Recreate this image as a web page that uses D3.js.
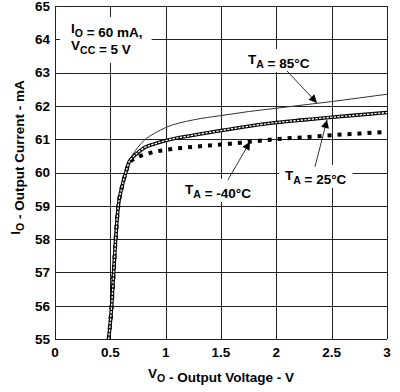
<!DOCTYPE html>
<html lang="en">
	<head>
		<meta charset="utf-8">
		<title>Output Current vs Output Voltage</title>
		<script src="https://d3js.org/d3.v7.min.js"></script>
		<style>
			body {
				margin: 0;
				background: #ffffff;
			}
			text {
				font-family: "Liberation Sans", Arial, sans-serif;
				font-weight: bold;
				fill: #000000;
			}
			.grid line {
				stroke: #222222;
				stroke-width: 1;
				shape-rendering: crispEdges;
			}
		</style>
	</head>
	<body>
		<div id="chart"></div>
		<script type="text/javascript">
			// data (VO in volts, IO in mA)
			var vo = [0.485, 0.512, 0.53, 0.548, 0.572, 0.6, 0.64, 0.67, 0.7, 0.75, 0.8, 0.9, 1.0, 1.25, 1.5, 1.75, 2.0, 2.25, 2.5, 2.75, 3.0];
			var io85 = [55, 56, 57, 58, 59, 59.5, 60.0, 60.34, 60.52, 60.76, 60.95, 61.18, 61.35, 61.58, 61.71, 61.83, 61.93, 62.03, 62.13, 62.24, 62.35];
			var io25 = [55, 56, 57, 58, 59, 59.5, 60.0, 60.32, 60.45, 60.6, 60.73, 60.86, 60.96, 61.12, 61.26, 61.39, 61.5, 61.58, 61.66, 61.73, 61.8];
			var ioM40 = [55, 56, 57, 58, 59, 59.5, 60.0, 60.3, 60.38, 60.47, 60.53, 60.62, 60.68, 60.77, 60.84, 60.92, 61.0, 61.06, 61.12, 61.17, 61.22];
			var xTicks = [0, 0.5, 1, 1.5, 2, 2.5, 3];
			var xTickLabels = ["0", "0.5", "1", "1.5", "2", "2.5", "3"];
			var yTicks = [55, 56, 57, 58, 59, 60, 61, 62, 63, 64, 65];

			var w = 400;
			var h = 392;
			var margin = {top: 6, right: 13, bottom: 53, left: 55};

			var svg = d3.select("#chart").append("svg").attr("width", w).attr("height", h);
			var xScale = d3.scaleLinear().domain([0, 3]).range([margin.left, w - margin.right]);
			var yScale = d3.scaleLinear().domain([55, 65]).range([h - margin.bottom, margin.top]);

			// grid and frame
			var grid = svg.append("g").attr("class", "grid");
			grid.selectAll(".vline").data(xTicks).enter().append("line").attr("class", "vline")
				.attr("x1", function(d) { return Math.round(xScale(d)) + 0.5; })
				.attr("x2", function(d) { return Math.round(xScale(d)) + 0.5; })
				.attr("y1", yScale(55)).attr("y2", yScale(65));
			grid.selectAll(".hline").data(yTicks).enter().append("line").attr("class", "hline")
				.attr("y1", function(d) { return Math.round(yScale(d)) + 0.5; })
				.attr("y2", function(d) { return Math.round(yScale(d)) + 0.5; })
				.attr("x1", xScale(0)).attr("x2", xScale(3));

			// white boxes behind labels (filled in after text is placed)
			var boxes = svg.append("g");
			var curves = svg.append("g");
			var labels = svg.append("g");

			var line = d3.line().curve(d3.curveMonotoneX)
				.x(function(d) { return xScale(d[0]); })
				.y(function(d) { return yScale(d[1]); });
			function pts(arr) {
				return vo.map(function(v, i) { return [v, arr[i]]; });
			}

			curves.append("path").attr("d", line(pts(io85)))
				.attr("fill", "none").attr("stroke", "#333").attr("stroke-width", 1);
			curves.append("path").attr("d", line(pts(ioM40)))
				.attr("fill", "none").attr("stroke", "#000").attr("stroke-width", 4)
				.attr("stroke-dasharray", "4,6");
			curves.append("path").attr("d", line(pts(io25)))
				.attr("fill", "none").attr("stroke", "#000").attr("stroke-width", 3.6);
			curves.append("path").attr("d", line(pts(io25)))
				.attr("fill", "none").attr("stroke", "#fff").attr("stroke-width", 1.3)
				.attr("stroke-dasharray", "2.4,1.3");

			// tick labels
			svg.append("g").selectAll("text").data(yTicks).enter().append("text")
				.attr("x", margin.left - 5).attr("y", function(d) { return yScale(d); })
				.attr("dy", "0.36em").attr("text-anchor", "end").style("font-size", "13.5px")
				.text(function(d) { return d; });
			svg.append("g").selectAll("text").data(xTicks).enter().append("text")
				.attr("x", function(d) { return xScale(d); }).attr("y", h - margin.bottom + 18)
				.attr("text-anchor", "middle").style("font-size", "13.5px")
				.text(function(d, i) { return xTickLabels[i]; });

			// text with subscripts
			function subText(g, x, y, parts, size) {
				var t = g.append("text").attr("x", x).attr("y", y).style("font-size", size + "px");
				parts.forEach(function(p) {
					if (p.sub) {
						t.append("tspan").text(p.sub).attr("dy", 4).style("font-size", (size - 3) + "px");
						t.append("tspan").text("").attr("dy", -4);
					} else {
						t.append("tspan").text(p.t);
					}
				});
				return t;
			}

			// axis titles
			var xt = subText(svg, xScale(1.5), 378, [{t: "V"}, {sub: "O"}, {t: " - Output Voltage - V"}], 13.5);
			xt.attr("text-anchor", "middle");
			var yt = subText(svg, 0, 0, [{t: "I"}, {sub: "O"}, {t: " - Output Current - mA"}], 13.5);
			yt.attr("text-anchor", "middle").attr("transform", "translate(20," + yScale(60.45) + ") rotate(-90)");

			// condition box
			var cond1 = subText(labels, xScale(0.145), yScale(64.19), [{t: "I"}, {sub: "O"}, {t: " = 60 mA,"}], 13.5);
			var cond2 = subText(labels, xScale(0.145), yScale(63.68), [{t: "V"}, {sub: "CC"}, {t: " = 5 V"}], 13.5);
			var b1 = cond1.node().getBBox(), b2 = cond2.node().getBBox();
			boxes.append("rect").attr("x", b1.x - 11).attr("y", b1.y - 4)
				.attr("width", Math.max(b1.width, b2.width) + 20).attr("height", b2.y + b2.height - b1.y + 10)
				.attr("fill", "#fff");

			// temperature labels and arrows
			var tLabels = [
				{name: "85", at: [1.744, 63.26], from: [2.096, 63.05], to: [2.367, 62.09]},
				{name: "25", at: [2.078, 59.78], from: [2.349, 60.17], to: [2.458, 61.58]},
				{name: "-40", at: [1.175, 59.36], from: [1.563, 59.78], to: [1.762, 60.92]}
			];
			var defs = svg.append("defs");
			defs.append("marker").attr("id", "arrow").attr("viewBox", "0 0 10 10")
				.attr("refX", 10).attr("refY", 5).attr("markerWidth", 10).attr("markerHeight", 8)
				.attr("markerUnits", "userSpaceOnUse").attr("orient", "auto")
				.append("path").attr("d", "M0,0L10,5L0,10Z").attr("fill", "#000");

			tLabels.forEach(function(d) {
				var t = subText(labels, xScale(d.at[0]), yScale(d.at[1]), [{t: "T"}, {sub: "A"}, {t: " = " + d.name + "\u00B0C"}], 13.5);
				var b = t.node().getBBox();
				boxes.append("rect").attr("x", b.x - 6).attr("y", b.y - 3)
					.attr("width", b.width + 12).attr("height", b.height + 4).attr("fill", "#fff");
				labels.append("line")
					.attr("x1", xScale(d.from[0])).attr("y1", yScale(d.from[1]))
					.attr("x2", xScale(d.to[0])).attr("y2", yScale(d.to[1]))
					.attr("stroke", "#000").attr("stroke-width", 0.8)
					.attr("marker-end", "url(#arrow)");
			});
		</script>
	</body>
</html>
